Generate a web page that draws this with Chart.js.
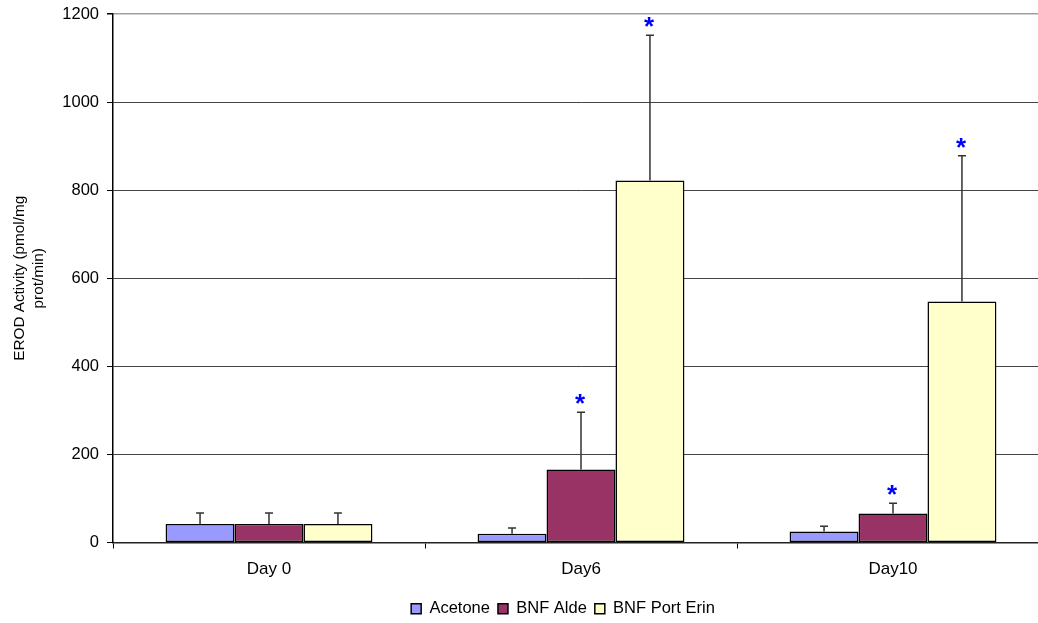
<!DOCTYPE html>
<html>
<head>
<meta charset="utf-8">
<script src="https://cdn.jsdelivr.net/npm/chart.js@4.4.1/dist/chart.umd.min.js"></script>
<style>
  html, body { margin: 0; padding: 0; background: #ffffff; overflow: hidden; }
  #wrap { width: 1038px; height: 623px; overflow: hidden; position: relative; }
  canvas { display: block; }
</style>
</head>
<body>
<div id="wrap"><canvas id="c" width="1126" height="623"></canvas></div>
<script>
// EROD activity per treatment group and sampling day
const categories = ['Day 0', 'Day6', 'Day10'];
const seriesNames = ['Acetone', 'BNF Alde', 'BNF Port Erin'];
const acetone = [42, 20, 25];
const bnfAlde = [42, 166, 66];
const bnfPortErin = [42, 822, 547];
// standard deviations (upper error bars)
const acetoneSD = [25, 13, 12];
const bnfAldeSD = [25, 130, 23];
const bnfPortErinSD = [25, 330, 331];
// significant difference from control
const acetoneSig = [false, false, false];
const bnfAldeSig = [false, true, true];
const bnfPortErinSig = [false, true, true];
const yTicks = [0, 200, 400, 600, 800, 1000, 1200];

const FONT = '"Liberation Sans", Arial, sans-serif';
const colors = ['#9999FF', '#993366', '#FFFFCC'];
const values = [acetone, bnfAlde, bnfPortErin];
const errors = [acetoneSD, bnfAldeSD, bnfPortErinSD];
const sigs = [acetoneSig, bnfAldeSig, bnfPortErinSig];

// upper error bars with caps, plus significance asterisks above them
const errorBarPlugin = {
  id: 'errorBars',
  afterDatasetsDraw(chart) {
    const ctx = chart.ctx;
    const y = chart.scales.y;
    chart.data.datasets.forEach((ds, i) => {
      const meta = chart.getDatasetMeta(i);
      meta.data.forEach((el, j) => {
        const top = y.getPixelForValue(ds.data[j] + ds.errors[j]);
        ctx.save();
        ctx.strokeStyle = '#333333';
        ctx.lineWidth = 1.5;
        ctx.beginPath();
        ctx.moveTo(el.x, el.y);
        ctx.lineTo(el.x, top);
        ctx.moveTo(el.x - 4, top);
        ctx.lineTo(el.x + 4, top);
        ctx.stroke();
        if (ds.sig[j]) {
          ctx.font = 'bold 26px ' + FONT;
          ctx.fillStyle = '#0000FF';
          ctx.textAlign = 'center';
          ctx.textBaseline = 'alphabetic';
          const m = ctx.measureText('*');
          const cy = top - 13;
          const off = (m.actualBoundingBoxAscent - m.actualBoundingBoxDescent) / 2;
          ctx.fillText('*', el.x - 1, cy + off);
        }
        ctx.restore();
      });
    });
  }
};

new Chart(document.getElementById('c'), {
  type: 'bar',
  data: {
    labels: categories,
    datasets: seriesNames.map((name, i) => ({
      label: name,
      data: values[i],
      errors: errors[i],
      sig: sigs[i],
      backgroundColor: colors[i],
      borderColor: '#000000',
      borderWidth: 1.5,
      borderSkipped: false,
      categoryPercentage: 0.663,
      barPercentage: 1.0
    }))
  },
  options: {
    responsive: false,
    animation: false,
    layout: { padding: { top: 14, bottom: -4, left: 0, right: 0 } },
    plugins: {
      tooltip: { enabled: false },
      legend: {
        position: 'bottom',
        labels: {
          boxWidth: 10,
          boxHeight: 10,
          padding: 8,
          color: '#000000',
          font: { family: FONT, size: 16.5 }
        }
      }
    },
    scales: {
      x: {
        type: 'category',
        grid: { offset: true, drawOnChartArea: false, drawTicks: true, tickLength: 6, color: '#000000', lineWidth: 1 },
        border: { color: '#222222', width: 1.5 },
        ticks: { color: '#000000', padding: 11, font: { family: FONT, size: 17 } },
        afterFit(s) { s.height = 50; s.paddingLeft = 0; s.paddingRight = 0; }
      },
      y: {
        min: 0,
        max: 1200,
        afterBuildTicks(s) { s.ticks = yTicks.map(v => ({ value: v })); },
        grid: {
          color: ctx => (ctx.tick && ctx.tick.value === 1200) ? '#a0a0a0' : '#444444',
          tickColor: '#000000',
          lineWidth: ctx => (ctx.tick && ctx.tick.value === 1200) ? 1.5 : 1,
          tickLength: 6
        },
        border: { color: '#000000', width: 1.5 },
        ticks: {
          color: '#000000',
          padding: 8,
          font: { family: FONT, size: 16.5 },
          callback: v => String(v)
        },
        title: {
          display: true,
          text: ['EROD Activity (pmol/mg', 'prot/min)'],
          color: '#000000',
          font: { family: FONT, size: 15.3, lineHeight: 1.2 },
          padding: { top: 11, bottom: 0 }
        },
        afterFit(s) { s.width = 113; s.paddingTop = 0; s.paddingBottom = 0; }
      },
      yR: {
        position: 'right',
        display: true,
        grid: { display: false },
        border: { display: false },
        ticks: { display: false },
        afterFit(s) { s.width = 77; s.paddingTop = 0; s.paddingBottom = 0; }
      }
    }
  },
  plugins: [errorBarPlugin]
});
</script>
</body>
</html>
